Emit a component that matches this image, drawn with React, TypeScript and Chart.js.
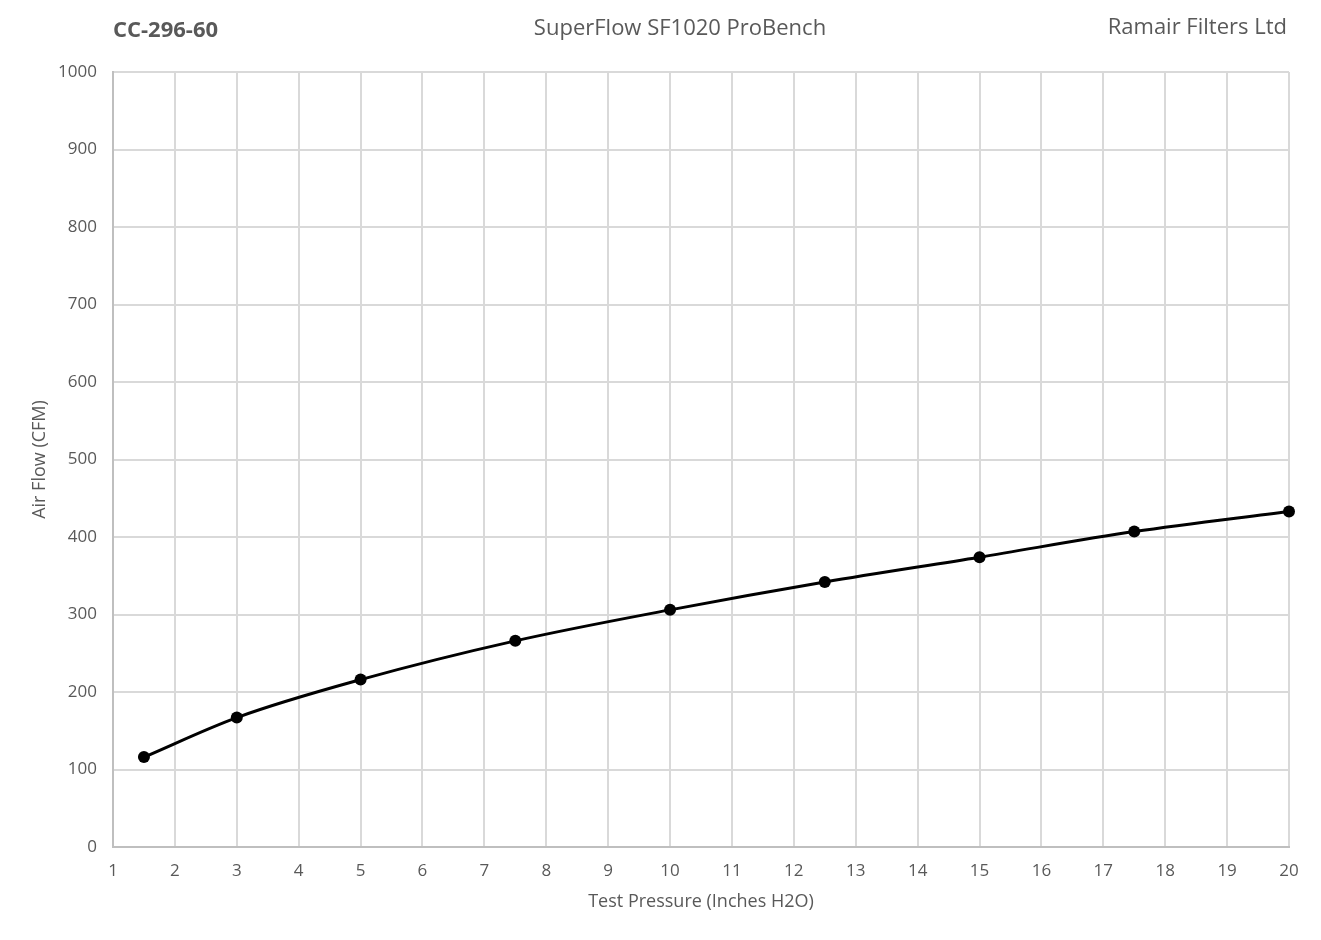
import React, { useEffect, useRef } from "react";
import { Chart, registerables } from "chart.js";

Chart.register(...registerables);

const pressures = [1.5, 3, 5, 7.5, 10, 12.5, 15, 17.5, 20];
const flows = [116, 167, 216, 266, 306, 342, 374, 407, 433];

const chartLeftTitle = "CC-296-60";
const chartCenterTitle = "SuperFlow SF1020 ProBench";
const chartRightTitle = "Ramair Filters Ltd";
const xAxisTitle = "Test Pressure (Inches H2O)";
const yAxisTitle = "Air Flow (CFM)";

const FONT = "'Open Sans', 'Noto Sans', sans-serif";

const headerPlugin = {
  id: "header",
  afterDraw(chart: any) {
    const ctx = chart.ctx;
    ctx.save();
    ctx.textBaseline = "middle";
    ctx.fillStyle = "#595959";
    ctx.font = `bold 22px ${FONT}`;
    ctx.textAlign = "left";
    ctx.fillText(chartLeftTitle, 113, 31);
    ctx.font = `22px ${FONT}`;
    ctx.textAlign = "center";
    ctx.fillText(chartCenterTitle, 680, 29);
    ctx.textAlign = "right";
    ctx.fillText(chartRightTitle, 1287, 28);
    ctx.restore();
  },
};

export default function App() {
  const ref = useRef<HTMLCanvasElement>(null);
  useEffect(() => {
    if (!ref.current) return;
    const chart = new Chart(ref.current, {
      type: "scatter",
      data: {
        datasets: [
          {
            data: pressures.map((p, i) => ({ x: p, y: flows[i] })),
            showLine: true,
            borderColor: "#000000",
            backgroundColor: "#000000",
            borderWidth: 3,
            pointRadius: 6,
            pointBorderWidth: 0,
            tension: 0.4,
            cubicInterpolationMode: "monotone",
            clip: false,
          } as any,
        ],
      },
      plugins: [headerPlugin],
      options: {
        animation: false,
        responsive: false,
        maintainAspectRatio: false,
        layout: { padding: { left: 0, right: 32, top: 72, bottom: 0 } },
        plugins: {
          legend: { display: false },
          tooltip: { enabled: false },
        },
        scales: {
          x: {
            type: "linear",
            min: 1,
            max: 20,
            afterFit: (s: any) => {
              s.height = 93;
            },
            ticks: {
              stepSize: 1,
              color: "#595959",
              font: { family: FONT, size: 17 },
              padding: 14,
              callback: (v: any) => String(v),
            },
            grid: { color: "#d9d9d9", lineWidth: 2, drawTicks: false },
            border: { color: "#bfbfbf", width: 2 },
            title: {
              display: true,
              text: xAxisTitle,
              color: "#595959",
              font: { family: FONT, size: 18 },
              padding: { top: 8, bottom: 27 },
            },
          },
          y: {
            type: "linear",
            min: 0,
            max: 1000,
            afterFit: (s: any) => {
              s.width = 113;
            },
            ticks: {
              stepSize: 100,
              color: "#595959",
              font: { family: FONT, size: 17 },
              padding: 16,
              callback: (v: any) => String(v),
            },
            grid: { color: "#d9d9d9", lineWidth: 2, drawTicks: false },
            border: { color: "#bfbfbf", width: 2 },
            title: {
              display: true,
              text: yAxisTitle,
              color: "#595959",
              font: { family: FONT, size: 18 },
              padding: { top: 29, bottom: 0 },
            },
          },
        },
      },
    });
    return () => chart.destroy();
  }, []);
  return (
    <div
      style={{
        position: "absolute",
        left: 0,
        top: 0,
        width: 1321,
        height: 940,
        background: "#ffffff",
      }}
    >
      <canvas ref={ref} width={1321} height={940} style={{ display: "block" }} />
    </div>
  );
}
